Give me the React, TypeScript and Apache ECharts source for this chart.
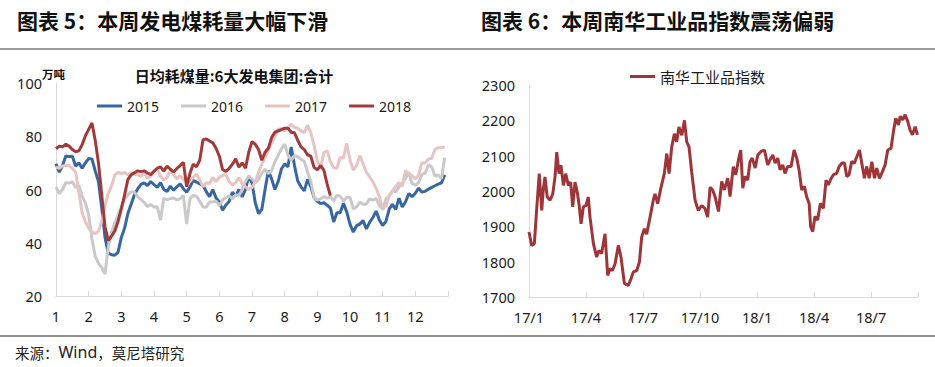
import React, { useEffect, useRef } from "react";
import * as echarts from "echarts";

// ---------- Left chart: daily coal consumption (万吨), one value every 0.1 month from month 1 ----------
const monthLabels = ["1", "2", "3", "4", "5", "6", "7", "8", "9", "10", "11", "12"];
const yearNames = ["2015", "2016", "2017", "2018"];

const coal2015 = [
  69.7, 66.5, 69, 72.6, 72.4, 72.5, 68.8, 70, 68, 70,
  71.6, 71.5, 67, 63, 53, 42, 36, 35.5, 35.3, 36.5,
  42, 45.5, 51, 54.5, 58, 60.2, 61.9, 62.5, 61.5, 63,
  61.8, 60.8, 62.6, 60, 59.3, 61.3, 59.7, 61, 62.1, 60.3,
  59, 60.9, 63.4, 62.8, 62.1, 61.5, 59.2, 57.3, 60, 56.8,
  55.4, 52.2, 54.2, 55.5, 59, 57.5, 60, 57.2, 60, 65,
  62.5, 55, 51, 52.5, 60, 67, 64, 60, 63, 67.7,
  69.6, 68.5, 76, 69, 63.2, 61, 59.5, 63.8, 61, 57,
  55.6, 54.7, 55, 54.1, 53, 47.8, 51.3, 51.3, 54.8, 51.6,
  47, 44, 46.4, 47, 48.3, 45.2, 47.6, 49.5, 51.9, 48.5,
  46.5, 48, 52.6, 54.4, 52.5, 56.7, 53.4, 55.4, 58.5, 57.3,
  58.6, 60.5, 59, 59.3, 60.1, 60.8, 61.4, 62, 62.5, 65.5,
];
const coal2016 = [
  60.9, 58.5, 60, 62.6, 62.4, 62.8, 60.8, 61.6, 57.5, 55,
  50.5, 41.5, 35, 32.2, 30.8, 28.2, 38.5, 44, 47.5, 50.5,
  53.5, 56.2, 58, 59.2, 59, 57.3, 56.3, 55.1, 53.6, 54.4,
  53.4, 53.5, 48.5, 56.7, 56.2, 56.6, 56.8, 56.1, 56.5, 57.8,
  47, 56.5, 57.8, 57.4, 55.6, 53.4, 53.3, 55.4, 55.3, 55.6,
  54, 56, 57, 57.7, 56.5, 58, 57.7, 60, 63, 65,
  64, 62.5, 63.8, 66.2, 67.6, 66, 67, 70.4, 72.8, 75.3,
  77, 73, 71, 72.7, 72.3, 71.4, 70.6, 66.6, 63, 57,
  56, 56.5, 57.3, 56.8, 57.3, 55.7, 57.8, 57.5, 55.6, 57,
  57, 52.7, 53.5, 55.2, 54.5, 54.5, 56.5, 56, 56.6, 54,
  52.5, 56.4, 57.5, 59.5, 59.1, 61, 62.4, 64.2, 66.5, 62.3,
  61.6, 62.6, 65.7, 66.1, 69.3, 68.5, 65, 65.5, 64, 72,
];
const coal2017 = [
  68.4, 68, 68.8, 69, 69, 67.9, 66.6, 59, 51.3, 48,
  45.4, 44, 43.4, 44.3, 48, 54, 58.5, 61.3, 65.4, 66.4,
  66, 66.4, 65.5, 66.3, 65.6, 65.7, 64.9, 66.2, 64.3, 65.1,
  67, 67.7, 65, 63.6, 64.5, 67, 65.6, 64, 65.2, 63.6,
  64.6, 63, 64.6, 65.8, 63.6, 61, 62.6, 62.2, 64.5, 63,
  64.6, 65.2, 65.8, 63, 61.7, 62.6, 64.5, 62, 61, 60,
  60.8, 62.8, 66.5, 69.5, 72, 74.6, 77.4, 79.8, 82.6, 82.8,
  82, 83.2, 84.5, 83.3, 83, 82, 81.3, 84.2, 81.3, 76.6,
  70.8, 68, 73.9, 74.5, 70.4, 68.2, 68, 72, 71.8, 77.3,
  71, 67.3, 69, 72.7, 69.7, 66.5, 64.8, 62.9, 60.4, 57.3,
  52.5, 53.8, 57.8, 59.4, 61.2, 62.6, 61.2, 67.2, 65.5, 65.3,
  63.9, 65.5, 70, 70, 71.5, 71.6, 75, 75.7, 75.7, 76,
];
const coal2018 = [
  75.3, 76.3, 76, 77, 76.3, 75, 74.2, 74.5, 76.8, 80.2,
  82.6, 85, 78.5, 70, 58, 46, 40.8, 42.5, 44.4, 48,
  52.8, 58, 63.8, 65.5, 66.3, 67, 66.7, 67, 66.2, 65.6,
  66.8, 68, 68.5, 66.9, 68.8, 67.6, 66.6, 67.9, 69, 70.2,
  61, 66, 69.5, 68.5, 71, 78.7, 79, 78.2, 77.5, 75.5,
  72.5, 67.5, 66.8, 67.9, 69.5, 71.5, 68.4, 70, 68, 74,
  78, 77, 75, 71, 74, 75.5, 79.5, 81.5, 82, 82.5,
  83, 83, 81.5, 81.3, 78.5, 76, 75, 73, 72.5, 68.3,
  67.4, 69, 67.3, 62, 57.7,
];

// ---------- Right chart: 南华工业品指数, x = months since 2017-01 ----------
const nhTickLabels = ["17/1", "17/4", "17/7", "17/10", "18/1", "18/4", "18/7"];
const nhMonth = [
  0, 0.14, 0.28, 0.4, 0.54, 0.67, 0.75, 0.84, 0.96, 1.11, 1.25, 1.37, 1.46, 1.58, 1.68, 1.81, 1.93,
  2.07, 2.19, 2.3, 2.42, 2.54, 2.65, 2.74, 2.86, 3.0, 3.12, 3.21, 3.39, 3.56, 3.68, 3.82, 4.0, 4.14,
  4.26, 4.39, 4.53, 4.7, 4.84, 5.02, 5.23, 5.37, 5.49, 5.67, 5.81, 5.93, 6.07, 6.19, 6.37, 6.54, 6.63,
  6.77, 6.95, 7.12, 7.25, 7.37, 7.51, 7.65, 7.77, 7.89, 8.04, 8.18, 8.3, 8.42, 8.56, 8.74, 8.91, 9.09,
  9.26, 9.4, 9.53, 9.67,
  9.79, 9.97, 10.14, 10.28, 10.46, 10.58, 10.75, 10.88, 11.02, 11.14, 11.25, 11.37, 11.51, 11.63,
  11.75, 11.9, 12.04, 12.21, 12.39, 12.56, 12.68, 12.83, 12.95, 13.09, 13.21, 13.35, 13.47, 13.61,
  13.79, 13.95, 14.09, 14.21, 14.35, 14.49, 14.61, 14.74, 14.82, 14.93, 15.05, 15.19, 15.33, 15.49,
  15.63, 15.75, 15.9, 16.02, 16.19, 16.32, 16.46, 16.6, 16.72, 16.84, 16.98, 17.12, 17.25, 17.39,
  17.51, 17.65, 17.77, 17.9, 18.04, 18.18, 18.3, 18.44, 18.56, 18.74, 18.88, 19.05, 19.19, 19.3,
  19.44, 19.54, 19.67, 19.79, 19.93, 20.05, 20.18, 20.32, 20.44,
];
const nhValue = [
  1884, 1846, 1851, 1945, 2049, 1945, 2002, 2040, 1983, 1974, 1992, 2040, 2110, 2049, 2073, 2016, 2049,
  2016, 2025, 1955, 2025, 1997, 1955, 1907, 1955, 1959, 1983, 1926, 1851, 1813, 1832, 1823, 1879, 1761,
  1780, 1775, 1794, 1846, 1813, 1738, 1733, 1752, 1771, 1775, 1799, 1870, 1893, 1878, 1926, 1974, 1992,
  1964, 2011, 2049, 2106, 2049, 2125, 2162, 2139, 2181, 2158, 2200, 2139, 2125, 2054, 1974, 1945, 1959,
  1950, 1926, 2011, 2002,
  1984, 1942, 2027, 2003, 2036, 1984, 2069, 2046, 2088, 2116, 2008, 2041, 2031, 2083,
  2093, 2065, 2102, 2112, 2116, 2074, 2088, 2102, 2079, 2093, 2060, 2074, 2050, 2069,
  2069, 2116, 2093, 2060, 2003, 2013, 1984, 1965, 1899, 1885, 1928, 1918, 1965, 1951,
  2031, 2017, 2036, 2046, 2050, 2069, 2079, 2079, 2041, 2046, 2083, 2079, 2097, 2116,
  2079, 2036, 2069, 2036, 2083, 2036, 2065, 2036, 2050, 2074, 2116, 2121, 2173, 2206,
  2187, 2211, 2201, 2216, 2197, 2173, 2159, 2182, 2159,
];

const coalColors = ["#3866A0", "#C9C9C9", "#E8C3C3", "#A23A3B"];
const nhColor = "#9E3538";

const CJK = '"Noto Sans CJK SC", "Noto Sans", sans-serif';
const NUM = '"Noto Sans", "Noto Sans CJK SC", sans-serif';

export default function App() {
  const ref = useRef<HTMLDivElement>(null);

  useEffect(() => {
    document.body.style.margin = "0";
    if (!ref.current) return;
    const chart = echarts.init(ref.current, undefined, { renderer: "svg" });

    const toPairs = (vals: number[]) => vals.map((v, i) => [1 + i * 0.1, v]);
    const coalSeries = [coal2015, coal2016, coal2017, coal2018].map((vals, k) => ({
      name: yearNames[k],
      type: "line",
      xAxisIndex: 0,
      yAxisIndex: 0,
      data: toPairs(vals),
      symbol: "none",
      lineStyle: { color: coalColors[k], width: 3 },
      itemStyle: { color: coalColors[k] },
    }));

    const axisLineGrey = { lineStyle: { color: "#D9D9D9", width: 1 } };
    const labelStyle = { color: "#1a1a1a", fontSize: 14.5, fontFamily: NUM };

    chart.setOption({
      animation: false,
      textStyle: { fontFamily: CJK },
      grid: [
        { left: 56, top: 83, width: 392, height: 213 },
        { left: 529, top: 85, width: 389, height: 212 },
      ],
      xAxis: [
        {
          gridIndex: 0,
          type: "value",
          min: 1,
          max: 13,
          interval: 1,
          axisLine: axisLineGrey,
          axisTick: { show: true, inside: true, length: 5, lineStyle: { color: "#D9D9D9" } },
          axisLabel: {
            ...labelStyle,
            margin: 13,
            formatter: (v: number) => (Number.isInteger(v) && v >= 1 && v <= 12 ? monthLabels[v - 1] : ""),
          },
          splitLine: { show: false },
        },
        {
          gridIndex: 1,
          type: "value",
          min: 0,
          max: 20.47,
          interval: 3,
          axisLine: axisLineGrey,
          axisTick: { show: true, inside: true, length: 5, lineStyle: { color: "#D9D9D9" } },
          axisLabel: {
            ...labelStyle,
            margin: 13,
            formatter: (v: number) => {
              const k = Math.round(v / 3);
              return Math.abs(v - k * 3) < 1e-6 && k < nhTickLabels.length ? nhTickLabels[k] : "";
            },
          },
          splitLine: { show: false },
        },
      ],
      yAxis: [
        {
          gridIndex: 0,
          type: "value",
          min: 20,
          max: 100,
          interval: 20,
          axisLine: { show: true, ...axisLineGrey },
          axisTick: { show: false },
          axisLabel: { ...labelStyle, margin: 14, formatter: (v: number) => String(v) },
          splitLine: { show: false },
        },
        {
          gridIndex: 1,
          type: "value",
          min: 1700,
          max: 2300,
          interval: 100,
          axisLine: { show: true, ...axisLineGrey },
          axisTick: { show: false },
          axisLabel: { ...labelStyle, margin: 14, formatter: (v: number) => String(v) },
          splitLine: { show: false },
        },
      ],
      legend: [
        {
          data: yearNames,
          left: 92,
          top: 94,
          icon: "rect",
          itemWidth: 25,
          itemHeight: 3,
          itemGap: 22,
          textStyle: { fontSize: 14, color: "#1a1a1a", fontFamily: NUM },
        },
        {
          data: ["南华工业品指数"],
          left: 625,
          top: 64,
          icon: "rect",
          itemWidth: 25,
          itemHeight: 3,
          textStyle: { fontSize: 15, color: "#1a1a1a", fontFamily: CJK },
        },
      ],
      graphic: [
        {
          type: "text",
          left: 17,
          top: 9,
          style: { text: "图表 5：本周发电煤耗量大幅下滑", font: `bold 21px ${CJK}`, fill: "#111" },
        },
        {
          type: "text",
          left: 481,
          top: 9,
          style: { text: "图表 6：本周南华工业品指数震荡偏弱", font: `bold 21px ${CJK}`, fill: "#111" },
        },
        {
          type: "line",
          shape: { x1: 0, y1: 49, x2: 935, y2: 49 },
          style: { stroke: "#3a3a3a", lineWidth: 1 },
        },
        {
          type: "line",
          shape: { x1: 0, y1: 336, x2: 935, y2: 336 },
          style: { stroke: "#222", lineWidth: 1 },
        },
        {
          type: "text",
          x: 234,
          y: 75,
          style: {
            text: "日均耗煤量:6大发电集团:合计",
            font: `bold 15px ${CJK}`,
            fill: "#111",
            align: "center",
            verticalAlign: "middle",
          },
        },
        {
          type: "text",
          x: 42,
          y: 74,
          style: { text: "万吨", font: `bold 11.5px ${CJK}`, fill: "#111", verticalAlign: "middle" },
        },
        {
          type: "text",
          x: 15,
          y: 352,
          style: {
            text: "{c|来源：}{w|Wind}{c|，莫尼塔研究}",
            verticalAlign: "middle",
            rich: {
              c: { fontFamily: CJK, fontSize: 14.5, fill: "#222" },
              w: { fontFamily: NUM, fontSize: 16, fill: "#222" },
            },
          },
        },
      ],
      series: [
        ...coalSeries,
        {
          name: "南华工业品指数",
          type: "line",
          xAxisIndex: 1,
          yAxisIndex: 1,
          data: nhMonth.map((t, i) => [t, nhValue[i]]),
          symbol: "none",
          lineStyle: { color: nhColor, width: 3 },
          itemStyle: { color: nhColor },
        },
      ],
    });

    return () => chart.dispose();
  }, []);

  return <div ref={ref} style={{ width: 935, height: 367 }} />;
}
